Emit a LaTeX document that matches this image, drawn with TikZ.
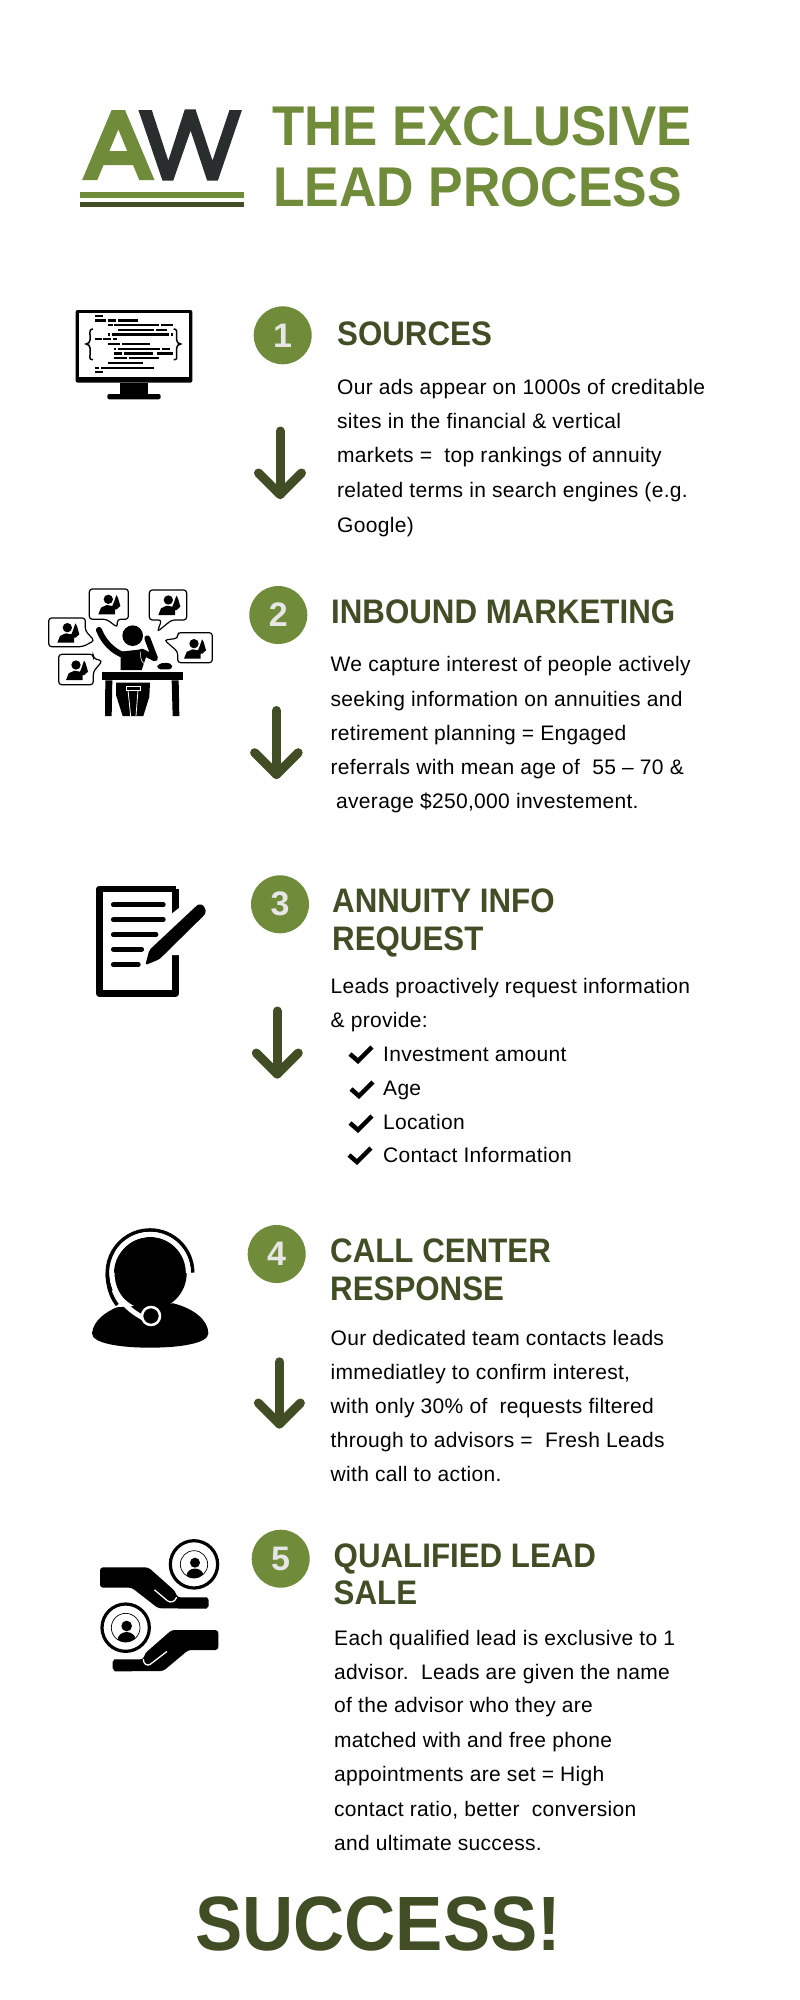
\documentclass[tikz,border=0pt]{standalone}
\usepackage{fontspec}
\usepackage{tikz}
\setmainfont[LetterSpace=1.5]{Liberation Sans}
\newfontfamily\titlefont[FakeStretch=0.943]{Liberation Sans}
\newfontfamily\titlefontb[FakeStretch=0.925]{Liberation Sans}
\newfontfamily\headfont[FakeStretch=0.92]{Liberation Sans}
\newfontfamily\endfont[FakeStretch=0.92]{Liberation Sans}
\definecolor{leafgreen}{HTML}{708B39}
\definecolor{darkolive}{HTML}{414D24}
\definecolor{inkgrey}{HTML}{292D2E}
\definecolor{badgetext}{HTML}{E6E6E6}
\tikzset{
  titleline/.style={anchor=base west, inner sep=0pt, text=leafgreen, font=\titlefont\fontsize{56}{56}\selectfont\bfseries},
  headline/.style={anchor=base west, inner sep=0pt, text=darkolive, font=\headfont\fontsize{34}{34}\selectfont\bfseries},
  bodyline/.style={anchor=base west, inner sep=0pt, text=black, font=\fontsize{21}{21}\selectfont},
  badge/.style={circle, fill=leafgreen, text=badgetext, minimum size=58pt, inner sep=0pt, font=\fontsize{34}{34}\selectfont\bfseries},
  flowarrow/.style={darkolive, line width=9pt, line cap=round, line join=round},
  tickmark/.style={black, line width=4.5pt, line join=miter},
  bubble/.style={draw=black, fill=white, line width=1.2pt, rounded corners=3pt}
}
% small person on the phone, inside a speech bubble
\newcommand{\phonecaller}[2]{
  \begin{scope}[shift={(#1,#2)}]
    \fill[black] (0,-17) circle [radius=14];
    \fill[black] (-30,28) -- (-22,8) -- (-5,0) -- (12,3) -- (17,-9) -- (24,-30) -- (29,-22) -- (36,3) -- (25,13) -- (20,13) -- (20,28) -- cycle;
  \end{scope}
}
% portrait in a double ring
\newcommand{\ringportrait}[5]{
  \begin{scope}[shift={(#1,#2)}]
    \draw[black, line width=3.2pt] (0,0) circle [radius=71];
    \draw[black, line width=.7pt] (0,0) circle [radius=#3];
    \fill[black] (#4,-5) circle [radius=#5];
    \begin{scope}
      \clip (0,0) circle [radius=#3];
      \fill[black] (#4,#5*2+5) ellipse [x radius=#5*1.7, y radius=#5*1.5];
    \end{scope}
  \end{scope}
}
\begin{document}
\begin{tikzpicture}[x=1pt, y=-1pt]
    \useasboundingbox (0,0) rectangle (800,2000);
    \fill[white] (0,0) rectangle (800,2000);

    % Logo
    \begin{scope}[shift={(50,70)}, xscale=1/2.24, yscale=1/3]
      \fill[leafgreen, even odd rule] (72,330) -- (138,120) -- (168,120) -- (234,330) -- (200,330) -- (186,285) -- (120,285) -- (106,330) -- cycle (133,243) -- (173,243) -- (153,178) -- cycle;
      \fill[inkgrey] (198,120) -- (228,120) -- (265,272) -- (302,118) -- (326,118) -- (364,272) -- (402,120) -- (430,120) -- (376,332) -- (352,332) -- (315,182) -- (276,332) -- (252,332) -- cycle;
      \fill[leafgreen] (68,367) rectangle (434,383);
      \fill[darkolive] (68,396) rectangle (434,412);
    \end{scope}

    % Title
    \node[titleline] (title1) at (272,145) {THE EXCLUSIVE};
    \node[titleline, font=\titlefontb\fontsize{56}{56}\selectfont\bfseries] (title2) at (273,206.7) {LEAD PROCESS};

    % Monitor icon
    \begin{scope}[shift={(40,290)}, scale=1/3]
      \fill[black, rounded corners=2pt] (107,60) rectangle (457,278);
      \fill[white] (117,70) rectangle (447,262);
      \fill[black] (240,278) rectangle (323,314);
      \fill[black, rounded corners=2pt] (202,312) rectangle (362,328);
      \foreach \xa/\xb/\yc in {165/188/78, 165/197/91, 203/228/91, 234/295/91, 203/218/105, 222/358/105, 364/398/105,
          233/343/119, 349/380/119, 203/210/133, 217/387/133, 393/398/133, 165/185/147, 190/213/147, 220/230/147,
          203/240/161, 246/330/161, 222/228/176, 233/360/176, 366/390/176, 222/246/190, 252/340/190, 350/398/190,
          222/260/204, 267/357/204, 203/309/218, 165/178/233, 184/343/233, 165/188/246}
        \fill[black] (\xa,\yc-3.5) rectangle (\xb,\yc+3.5);
      \draw[black, line width=1.5pt] (159,117) .. controls (148,117) and (150,125) .. (150,135) -- (150,150) .. controls (150,158) and (145,160) .. (138,162) .. controls (145,164) and (150,166) .. (150,174) -- (150,195) .. controls (150,205) and (148,209) .. (159,209);
      \draw[black, line width=1.5pt] (401,117) .. controls (412,117) and (410,125) .. (410,135) -- (410,150) .. controls (410,158) and (415,160) .. (422,162) .. controls (415,164) and (410,166) .. (410,174) -- (410,195) .. controls (410,205) and (412,209) .. (401,209);
    \end{scope}

    % Desk and bubbles icon
    \begin{scope}[shift={(40,290)}, scale=1/3]
      \draw[bubble] (148,897) -- (265,897) -- (265,988) -- (232,988) -- (232,1012) -- (200,988) -- (148,988) -- cycle;
      \draw[bubble] (328,900) -- (440,900) -- (440,990) -- (395,990) -- (352,1025) -- (365,990) -- (328,990) -- cycle;
      \draw[bubble] (26,984) -- (136,984) -- (136,1022) -- (163,1052) -- (128,1070) -- (26,1070) -- cycle;
      \draw[bubble] (413,1028) -- (517,1028) -- (517,1118) -- (413,1118) -- (413,1085) -- (373,1050) -- (413,1045) -- cycle;
      \draw[bubble] (56,1093) -- (160,1093) -- (160,1105) -- (187,1113) -- (160,1145) -- (160,1184) -- (56,1184) -- cycle;
      \phonecaller{205}{945}
      \phonecaller{385}{947}
      \phonecaller{82}{1030}
      \phonecaller{462}{1078}
      \phonecaller{108}{1142}
      % person at the desk
      \fill[black] (278,1037) circle [radius=31];
      \draw[black, line width=6pt, line cap=round] (177,1020) .. controls (190,1055) and (220,1085) .. (250,1095);
      \fill[black] (242,1085) -- (305,1078) -- (320,1095) -- (305,1140) -- (242,1140) -- cycle;
      \draw[black, line width=6pt, line cap=round, line join=round] (305,1085) -- (345,1105) -- (322,1045);
      \draw[white, line width=.6pt] (302,1085) .. controls (300,1110) and (305,1130) .. (350,1130);
      \fill[black, rounded corners=4pt] (350,1138) -- (354,1120) -- (394,1118) -- (399,1138) -- cycle;
      \fill[black] (185,1146) rectangle (428,1171);
      \fill[black] (196,1171) -- (217,1171) -- (215,1278) -- (195,1278) -- cycle;
      \fill[black] (395,1171) -- (416,1171) -- (418,1278) -- (398,1278) -- cycle;
      \fill[black] (228,1178) -- (330,1178) -- (328,1220) -- (310,1278) -- (248,1278) -- (228,1215) -- cycle;
      % stool between the legs
      \draw[white, line width=.5pt] (258,1190) rectangle (300,1200);
      \draw[white, line width=.8pt] (264,1200) -- (272,1278);
      \draw[white, line width=.8pt] (294,1200) -- (288,1278);
    \end{scope}

    % Form and pen icon
    \begin{scope}[shift={(70,860)}, scale=1/3]
      \draw[black, line width=6.8pt, line join=round] (317,87) -- (88,87) -- (88,400) -- (317,400) -- (317,87);
      \fill[white] (300,165) -- (345,130) -- (345,285) -- (300,285) -- cycle;
      \foreach \yc/\xe in {134/280, 179/280, 224/258, 268/215, 314/205}
        \draw[black, line width=4.8pt, line cap=round] (130,\yc) -- (\xe,\yc);
      \draw[white, line width=15pt] (393,148) -- (240,298);
      \fill[black, rounded corners=2pt] (380,137) .. controls (390,130) and (400,135) .. (405,145) .. controls (408,155) and (405,162) .. (400,168) -- (268,298) -- (226,315) -- (238,270) -- cycle;
    \end{scope}

    % Headset icon
    \begin{scope}[shift={(70,860)}, scale=1/3]
      \fill[black] (66,1420) .. controls (70,1380) and (110,1355) .. (140,1342) -- (310,1330) .. controls (370,1345) and (415,1380) .. (415,1420) .. controls (415,1450) and (330,1463) .. (240,1463) .. controls (150,1463) and (66,1450) .. (66,1420) -- cycle;
      \fill[black] (241,1240) circle [radius=109];
      \draw[black, line width=3.6pt] (368,1238) arc [start angle=0, end angle=-205, radius=128];
      \draw[white, line width=5pt] (355,1238) arc [start angle=0, end angle=-150, radius=115] ;
      \draw[white, line width=5pt] (126,1238) .. controls (126,1300) and (165,1345) .. (222,1375);
      \draw[black, line width=3.6pt] (112,1238) .. controls (112,1290) and (130,1320) .. (142,1335);
      \draw[white, line width=2.5pt, fill=black] (243,1368) circle [radius=27];
    \end{scope}

    % Hands and portraits icon
    \begin{scope}[shift={(80,1510)}, scale=1/3]
      \ringportrait{342}{163}{41}{3}{15}
      \ringportrait{137}{353}{43}{3}{16}
      \fill[black, rounded corners=3pt] (60,172) -- (205,172) -- (285,243) -- (292,262) -- (372,262) .. controls (382,262) and (386,272) .. (386,279) .. controls (386,288) and (380,296) .. (370,296) -- (235,295) -- (155,233) -- (60,233) -- cycle;
      \draw[white, line width=1.3pt, line cap=round] (224,240) -- (262,272) .. controls (272,280) and (285,275) .. (290,262);
      \fill[black, rounded corners=3pt] (415,360) -- (275,360) -- (195,430) -- (190,448) -- (112,448) .. controls (102,448) and (98,458) .. (98,465) .. controls (98,475) and (104,484) .. (114,484) -- (250,483) -- (325,420) -- (415,420) -- cycle;
      \draw[white, line width=1.3pt, line cap=round] (260,425) -- (212,462) .. controls (202,470) and (190,462) .. (190,448);
    \end{scope}

    % Step 1
    \node[badge] (step1) at (282.7,335.3) {1};
    \node[headline] (head1) at (337,345) {SOURCES};
    \node[bodyline] (s1-l1) at (337,394) {Our ads appear on 1000s of creditable};
    \node[bodyline] (s1-l2) at (337,428.3) {sites in the financial \& vertical};
    \node[bodyline] (s1-l3) at (337,462.7) {markets =\ \ top rankings of annuity};
    \node[bodyline] (s1-l4) at (337,497.3) {related terms in search engines (e.g.};
    \node[bodyline] (s1-l5) at (337,532) {Google)};

    % Step 2
    \node[badge] (step2) at (278.3,615) {2};
    \node[headline] (head2) at (331,623) {INBOUND MARKETING};
    \node[bodyline] (s2-l1) at (330.5,671.7) {We capture interest of people actively};
    \node[bodyline] (s2-l2) at (330.5,706) {seeking information on annuities and};
    \node[bodyline] (s2-l3) at (330.5,740) {retirement planning = Engaged};
    \node[bodyline] (s2-l4) at (330.5,774.3) {referrals with mean age of\ \ 55 – 70 \&};
    \node[bodyline] (s2-l5) at (336,808.3) {average \$250,000 investement.};

    % Step 3
    \node[badge] (step3) at (280,904.3) {3};
    \node[headline] (head3a) at (332,912.7) {ANNUITY INFO};
    \node[headline] (head3b) at (332,950.7) {REQUEST};
    \node[bodyline] (s3-l1) at (330.5,993.3) {Leads proactively request information};
    \node[bodyline] (s3-l2) at (330.5,1027.3) {\& provide:};
    \node[bodyline] (s3-l3) at (383,1061) {Investment amount};
    \node[bodyline] (s3-l4) at (383,1095) {Age};
    \node[bodyline] (s3-l5) at (383,1129) {Location};
    \node[bodyline] (s3-l6) at (383,1162.7) {Contact Information};
    % Draw the ticks
    \draw[tickmark] (350,1054) -- (358,1061) -- (372,1047);
    \draw[tickmark] (351,1089) -- (359,1096) -- (373,1082);
    \draw[tickmark] (350,1123) -- (358,1130) -- (372,1116);
    \draw[tickmark] (349,1155) -- (357,1162) -- (371,1148);

    % Step 4
    \node[badge] (step4) at (276.7,1254) {4};
    \node[headline] (head4a) at (330,1262.7) {CALL CENTER};
    \node[headline] (head4b) at (330,1300.7) {RESPONSE};
    \node[bodyline] (s4-l1) at (330.5,1345) {Our dedicated team contacts leads};
    \node[bodyline] (s4-l2) at (330.5,1379.3) {immediatley to confirm interest,};
    \node[bodyline] (s4-l3) at (330.5,1413.3) {with only 30\% of\ \ requests filtered};
    \node[bodyline] (s4-l4) at (330.5,1447.3) {through to advisors =\ \ Fresh Leads};
    \node[bodyline] (s4-l5) at (330.5,1481.7) {with call to action.};

    % Step 5
    \node[badge] (step5) at (280.7,1558.7) {5};
    \node[headline] (head5a) at (333.5,1567.7) {QUALIFIED LEAD};
    \node[headline] (head5b) at (333.5,1604.3) {SALE};
    \node[bodyline] (s5-l1) at (334,1645) {Each qualified lead is exclusive to 1};
    \node[bodyline] (s5-l2) at (334,1679) {advisor.\ \ Leads are given the name};
    \node[bodyline] (s5-l3) at (334,1712.7) {of the advisor who they are};
    \node[bodyline] (s5-l4) at (334,1747.3) {matched with and free phone};
    \node[bodyline] (s5-l5) at (334,1781.7) {appointments are set = High};
    \node[bodyline] (s5-l6) at (334,1816) {contact ratio, better\ \ conversion};
    \node[bodyline] (s5-l7) at (334,1850) {and ultimate success.};

    \node[anchor=base west, inner sep=0pt, text=darkolive, font=\endfont\fontsize{77}{77}\selectfont\bfseries] (success) at (195,1950.7) {SUCCESS!};

    % Draw the arrows between the steps
    \coordinate (a1top) at (280,431);
    \coordinate (a1tip) at (280,494.5);
    \coordinate (a2top) at (276.4,710.5);
    \coordinate (a2tip) at (276.4,774.5);
    \coordinate (a3top) at (277.3,1011);
    \coordinate (a3tip) at (277.3,1074);
    \coordinate (a4top) at (279.4,1361.8);
    \coordinate (a4tip) at (279.4,1424);
    \foreach \n/\r in {1/21.5, 2/21.8, 3/21, 4/21} {
      \draw[flowarrow] (a\n top) -- (a\n tip);
      \draw[flowarrow] ([xshift=-\r pt, yshift=\r pt]a\n tip) -- (a\n tip) -- ([xshift=\r pt, yshift=\r pt]a\n tip);
    }
\end{tikzpicture}
\end{document}
